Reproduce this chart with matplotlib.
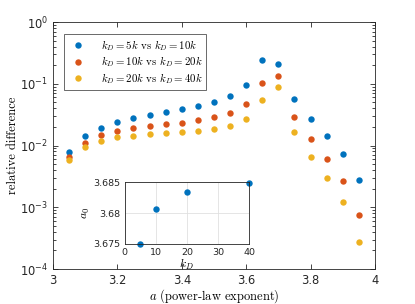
import numpy as np
import matplotlib
matplotlib.use("Agg")
import matplotlib.pyplot as plt
from matplotlib.ticker import LogLocator, NullFormatter

plt.rcParams["mathtext.fontset"] = "cm"
plt.rcParams["font.family"] = "DejaVu Sans"

# data
a_vals = [3.05, 3.10, 3.15, 3.20, 3.25, 3.30, 3.35, 3.40, 3.45, 3.50,
          3.55, 3.60, 3.65, 3.70, 3.75, 3.80, 3.85, 3.90, 3.95]
diff_5_10 = [0.0079, 0.0143, 0.0195, 0.0237, 0.0275, 0.0312, 0.0349, 0.0385, 0.0436, 0.0512,
             0.064, 0.094, 0.243, 0.211, 0.0573, 0.0269, 0.0143, 0.0072, 0.00273]
diff_10_20 = [0.0066, 0.0111, 0.0146, 0.0172, 0.0192, 0.0207, 0.0220, 0.0234, 0.0256, 0.0286,
              0.034, 0.0465, 0.1017, 0.1336, 0.029, 0.0126, 0.0060, 0.00263, 0.00076]
diff_20_40 = [0.0058, 0.0096, 0.0120, 0.0136, 0.0145, 0.0152, 0.0157, 0.0163, 0.0170, 0.0183,
              0.021, 0.0272, 0.0546, 0.0876, 0.0163, 0.0066, 0.0030, 0.00122, 0.000274]
labels = [r"$k_D = 5k$ vs $k_D = 10k$",
          r"$k_D = 10k$ vs $k_D = 20k$",
          r"$k_D = 20k$ vs $k_D = 40k$"]
colors = ["#0072BD", "#D95319", "#EDB120"]

kD = [5, 10, 20, 40]
a0 = [3.675, 3.6807, 3.6834, 3.6849]

fig = plt.figure(figsize=(4.15, 3.04), dpi=100)
ax = fig.add_axes([0.1277, 0.1151, 0.7759, 0.8125])

for y, lab, c in zip([diff_5_10, diff_10_20, diff_20_40], labels, colors):
    ax.plot(a_vals, y, "o", color=c, markersize=4.6, markeredgewidth=0, label=lab)

ax.set_yscale("log")
ax.set_xlim(3, 4)
ax.set_ylim(1e-4, 1)
ax.set_xticks([3, 3.2, 3.4, 3.6, 3.8, 4])
ax.set_xticklabels(["3", "3.2", "3.4", "3.6", "3.8", "4"])
ax.yaxis.set_major_locator(LogLocator(base=10, numticks=10))
ax.yaxis.set_minor_locator(LogLocator(base=10, subs=np.arange(2, 10), numticks=10))
ax.yaxis.set_minor_formatter(NullFormatter())
ax.tick_params(which="both", direction="in", top=True, right=True, labelsize=8.3,
               color="#262626", labelcolor="#262626", width=0.6)
ax.tick_params(which="major", length=3.5)
ax.tick_params(which="minor", length=2)
for s in ax.spines.values():
    s.set_linewidth(0.6)
    s.set_color("#262626")

ax.set_xlabel(r"$a$ (power-law exponent)", family="cmr10", fontsize=9, labelpad=0)
ax.set_ylabel("relative difference", family="cmr10", fontsize=9, labelpad=1)

leg = ax.legend(loc="upper left", bbox_to_anchor=(0.033, 0.95),
                prop={"family": "cmr10", "size": 7.8}, frameon=True, fancybox=False,
                borderpad=0.35, labelspacing=0.15, handletextpad=1.1, borderaxespad=0)
leg.get_frame().set_edgecolor("#262626")
leg.get_frame().set_linewidth(0.6)

# inset
ins = fig.add_axes([0.3005, 0.1974, 0.2995, 0.2030])
ins.plot(kD, a0, "o", color=colors[0], markersize=4.6, markeredgewidth=0, clip_on=False)
ins.set_xlim(0, 40)
ins.set_ylim(3.675, 3.685)
ins.set_xticks([0, 10, 20, 30, 40])
ins.set_yticks([3.675, 3.68, 3.685])
ins.set_yticklabels(["3.675", "3.68", "3.685"])
ins.grid(True, color="#e0e0e0", linewidth=0.6)
ins.tick_params(direction="in", labelsize=6.8, length=0, pad=3,
                color="#262626", labelcolor="#262626")
for s in ins.spines.values():
    s.set_linewidth(0.6)
    s.set_color("#262626")
ins.set_xlabel(r"$k_D$", fontsize=8.5, labelpad=0)
ins.set_ylabel(r"$a_0$", fontsize=8.5, labelpad=1)

fig.savefig("out.png", dpi=100)
